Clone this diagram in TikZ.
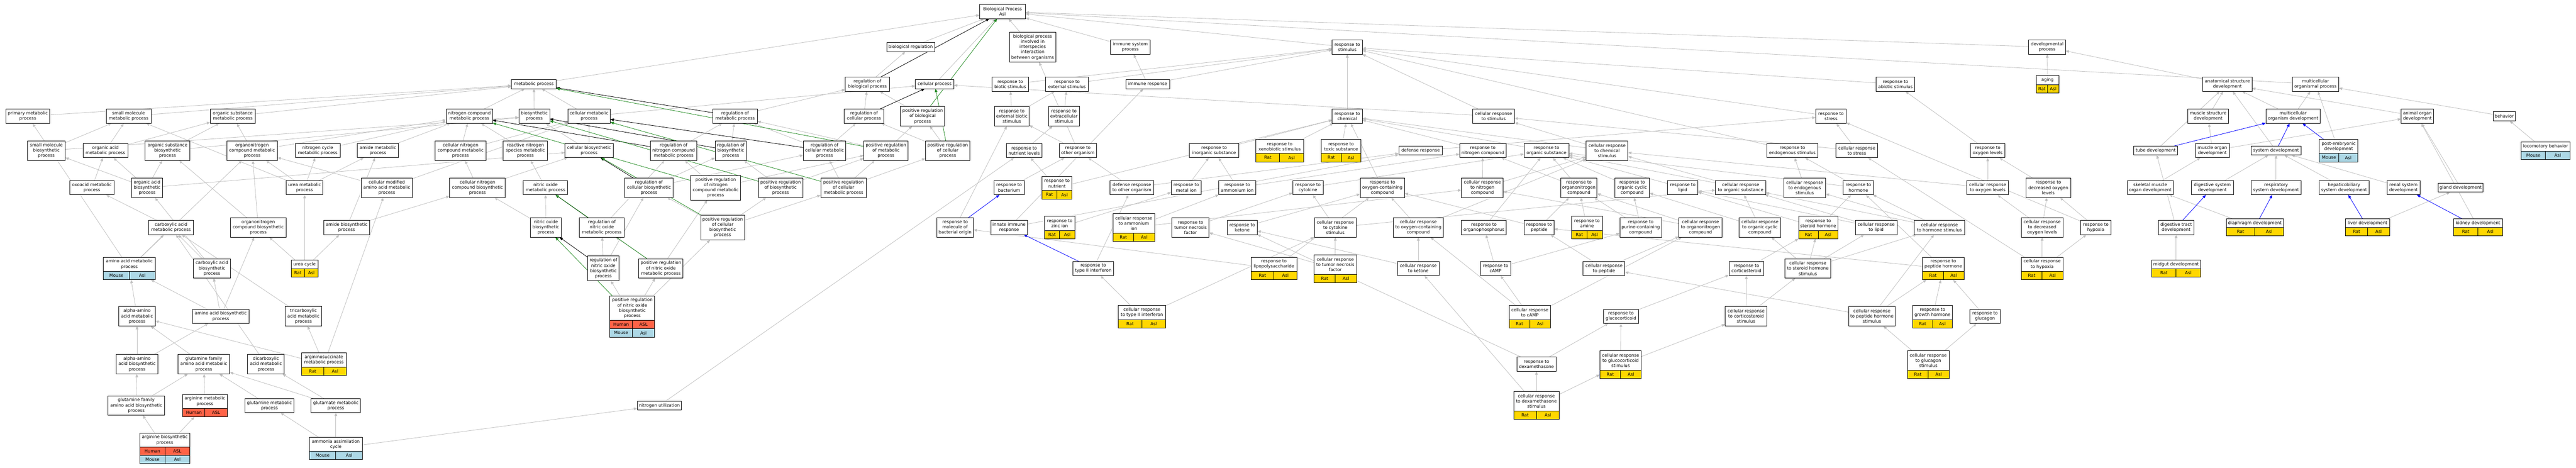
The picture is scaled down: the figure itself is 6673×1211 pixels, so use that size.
\documentclass[tikz,border=0pt]{standalone}
\usepackage{fontspec}
\setmainfont{DejaVu Sans}
\usetikzlibrary{arrows.meta,fit}
\pgfdeclarelayer{bg}
\pgfsetlayers{bg,main}
\definecolor{edgegray}{HTML}{C0C0C0}
\definecolor{hum}{HTML}{FF6347}
\definecolor{mou}{HTML}{ADD8E6}
\definecolor{rat}{HTML}{FFD700}
\definecolor{pgreen}{HTML}{228B22}
\newcommand\gofont{\fontsize{11.3}{13.6}\selectfont}
\tikzset{
  gobox/.style={draw=black,line width=1.2bp,fill=white,rectangle,inner xsep=2bp,inner ysep=1bp,outer sep=0pt,align=center,font=\gofont},
  cell/.style={draw=black,line width=1.2bp,rectangle,inner sep=0pt,outer sep=0pt,minimum height=21.5bp,font=\gofont},
  grp/.style={rectangle,inner sep=0pt,outer sep=0pt},
  isa/.style={draw=edgegray,line width=1.1bp,-{Triangle[length=9bp,width=7bp]}},
  rg/.style={isa,draw=black},
  pg/.style={isa,draw=pgreen},
  po/.style={isa,draw=blue}
}
\newcommand\gn[6]{\node[gobox,minimum width=#4bp,minimum height={23bp+13.6bp*(#5-1)}] (#1) at (#2,-#3) {#6};}
\newcommand\sn[6]{\node[gobox,anchor=north,minimum width=#4bp,minimum height={23bp+13.6bp*(#5-1)}] (#1t) at (#2,-#3) {#6};}
\newcommand\srow[6]{%
  \node[cell,fill=#4,minimum width={#3bp/2},anchor=north east] (#1a) at (#2) {#5};
  \node[cell,fill=#4,minimum width={#3bp/2},anchor=north west] (#1b) at (#2) {#6};}
\newcommand\ratn[6]{\sn{#1}{#2}{#3}{#4}{#5}{#6}\srow{#1r}{#1t.south}{#4}{rat}{Rat}{Asl}\node[grp,fit=(#1t)(#1ra)(#1rb)] (#1) {};}
\newcommand\moun[6]{\sn{#1}{#2}{#3}{#4}{#5}{#6}\srow{#1r}{#1t.south}{#4}{mou}{Mouse}{Asl}\node[grp,fit=(#1t)(#1ra)(#1rb)] (#1) {};}
\newcommand\humn[6]{\sn{#1}{#2}{#3}{#4}{#5}{#6}\srow{#1r}{#1t.south}{#4}{hum}{Human}{ASL}\node[grp,fit=(#1t)(#1ra)(#1rb)] (#1) {};}
\newcommand\hmn[6]{\sn{#1}{#2}{#3}{#4}{#5}{#6}\srow{#1r}{#1t.south}{#4}{hum}{Human}{ASL}\srow{#1s}{#1ra.south east}{#4}{mou}{Mouse}{Asl}\node[grp,fit=(#1t)(#1sa)(#1sb)] (#1) {};}
\newcommand\edg[3][isa]{\draw[#1] (#2) -- (#3);}
\begin{document}
\begin{tikzpicture}[x=1bp,y=1bp]
\useasboundingbox (0,0) rectangle (6673,-1211);
\begin{pgfonlayer}{bg}
\fill[white] (0,0) rectangle (6673,-1211);
\end{pgfonlayer}
% ---------------- metabolism
\gn{primmet}{72}{301}{113}{2}{primary metabolic\\process}
\gn{smmet}{333}{301}{116}{2}{small molecule\\metabolic process}
\gn{orgsubmet}{603}{301}{116}{2}{organic substance\\metabolic process}
\gn{smbio}{120}{390}{98}{3}{small molecule\\biosynthetic\\process}
\gn{oamet}{273}{390}{116}{2}{organic acid\\metabolic process}
\gn{orgsubbio}{434}{390}{116}{3}{organic substance\\biosynthetic\\process}
\gn{onmet}{653}{390}{131}{3}{organonitrogen\\compound metabolic\\process}
\gn{ncyc}{823}{390}{116}{2}{nitrogen cycle\\metabolic process}
\gn{amidemet}{979}{390}{106}{2}{amide metabolic\\process}
\gn{oxoacid}{238}{486}{115}{2}{oxoacid metabolic\\process}
\gn{oabio}{381}{486}{80}{3}{organic acid\\biosynthetic\\process}
\gn{ureamet}{789}{486}{95}{2}{urea metabolic\\process}
\gn{cmodaa}{1002}{486}{133}{3}{cellular modified\\amino acid metabolic\\process}
\gn{carbmet}{443}{589}{116}{2}{carboxylic acid\\metabolic process}
\gn{onbio}{669}{589}{144}{3}{organonitrogen\\compound biosynthetic\\process}
\gn{amidebio}{898}{589}{118}{2}{amide biosynthetic\\process}
\moun{aamet}{335}{666}{134}{2}{amino acid metabolic\\process}
\gn{carbbio}{549}{695}{97}{3}{carboxylic acid\\biosynthetic\\process}
\ratn{ureacyc}{789}{673}{70}{1}{urea cycle}
\gn{alphaaamet}{355}{819}{94}{3}{alpha-amino\\acid metabolic\\process}
\gn{aabio}{572}{819}{146}{2}{amino acid biosynthetic\\process}
\gn{tcamet}{786}{819}{94}{3}{tricarboxylic\\acid metabolic\\process}
\gn{alphaaabio}{355}{943}{108}{3}{alpha-amino\\acid biosynthetic\\process}
\gn{glnfammet}{528}{943}{134}{3}{glutamine family\\amino acid metabolic\\process}
\gn{dicarbmet}{689}{943}{95}{3}{dicarboxylic\\acid metabolic\\process}
\ratn{asucc}{839}{914}{116}{2}{argininosuccinate\\metabolic process}
\gn{glnfambio}{353}{1050}{146}{3}{glutamine family\\amino acid biosynthetic\\process}
\humn{argmet}{531}{1021}{115}{2}{arginine metabolic\\process}
\gn{glnmet}{698}{1050}{126}{2}{glutamine metabolic\\process}
\gn{glumet}{870}{1050}{128}{2}{glutamate metabolic\\process}
\hmn{argbio}{427}{1121}{129}{2}{arginine biosynthetic\\process}
\moun{ammassim}{870}{1132}{138}{2}{ammonia assimilation\\cycle}
% ---------------- metabolism / regulation
\gn{metproc}{1383}{218}{116}{1}{metabolic process}
\gn{ncmet}{1216}{301}{120}{2}{nitrogen compound\\metabolic process}
\gn{bioproc}{1384}{301}{80}{2}{biosynthetic\\process}
\gn{cellmet}{1526}{301}{110}{2}{cellular metabolic\\process}
\gn{regmet}{1904}{301}{116}{2}{regulation of\\metabolic process}
\gn{regbio}{2247}{218}{115}{2}{regulation of\\biological process}
\gn{regcell}{2238}{301}{103}{2}{regulation of\\cellular process}
\gn{cnmet}{1193}{390}{131}{3}{cellular nitrogen\\compound metabolic\\process}
\gn{rnsmet}{1361}{390}{115}{3}{reactive nitrogen\\species metabolic\\process}
\gn{cellbio}{1526}{390}{125}{2}{cellular biosynthetic\\process}
\gn{regncmet}{1745}{390}{119}{3}{regulation of\\nitrogen compound\\metabolic process}
\gn{regbiosyn}{1893}{390}{81}{3}{regulation of\\biosynthetic\\process}
\gn{regcellmet}{2136}{390}{110}{3}{regulation of\\cellular metabolic\\process}
\gn{cnbio}{1237}{486}{144}{3}{cellular nitrogen\\compound biosynthetic\\process}
\gn{nomet}{1413}{486}{115}{2}{nitric oxide\\metabolic process}
\gn{regcellbio}{1681}{486}{125}{3}{regulation of\\cellular biosynthetic\\process}
\gn{posregncmet}{1854}{486}{130}{4}{positive regulation\\of nitrogen\\compound metabolic\\process}
\gn{posregbiosyn}{2022}{486}{115}{3}{positive regulation\\of biosynthetic\\process}
\gn{posregcellmet}{2185}{486}{118}{3}{positive regulation\\of cellular\\metabolic process}
\gn{nobio}{1414}{589}{81}{3}{nitric oxide\\biosynthetic\\process}
\gn{regnomet}{1559}{589}{116}{3}{regulation of\\nitric oxide\\metabolic process}
\gn{posregcellbio}{1872}{589}{114}{4}{positive regulation\\of cellular\\biosynthetic\\process}
\gn{regnobio}{1563}{695}{81}{4}{regulation of\\nitric oxide\\biosynthetic\\process}
\gn{posregnomet}{1712}{695}{115}{3}{positive regulation\\of nitric oxide\\metabolic process}
\hmn{posregnobio}{1638}{766}{116}{4}{positive regulation\\of nitric oxide\\biosynthetic\\process}
\gn{nutil}{1708}{1050}{114}{1}{nitrogen utilization}
% ---------------- root and responses
\gn{root}{2597}{30}{119}{2}{Biological Process\\Asl}
\gn{bioreg}{2359}{122}{124}{1}{biological regulation}
\gn{interspp}{2675}{122}{121}{5}{biological process\\involved in\\interspecies\\interaction\\between organisms}
\gn{immsys}{2928}{122}{103}{2}{immune system\\process}
\gn{cellproc}{2421}{218}{100}{1}{cellular process}
\gn{respbiotic}{2617}{218}{95}{2}{response to\\biotic stimulus}
\gn{respext}{2764}{218}{110}{2}{response to\\external stimulus}
\gn{immresp}{2973}{218}{113}{1}{immune response}
\gn{posregbio}{2390}{301}{115}{3}{positive regulation\\of biological\\process}
\gn{respextbiotic}{2621}{301}{90}{3}{response to\\external biotic\\stimulus}
\gn{respextracell}{2756}{301}{80}{3}{response to\\extracellular\\stimulus}
\gn{posregmet}{2295}{390}{115}{3}{positive regulation\\of metabolic\\process}
\gn{posregcell}{2455}{390}{115}{3}{positive regulation\\of cellular\\process}
\gn{respnutlev}{2653}{390}{91}{2}{response to\\nutrient levels}
\gn{respotherorg}{2792}{390}{96}{2}{response to\\other organism}
\gn{respinorg}{3145}{390}{128}{2}{response to\\inorganic substance}
\ratn{respxeno}{3315}{361}{123}{2}{response to\\xenobiotic stimulus}
\gn{respbact}{2614}{486}{79}{2}{response to\\bacterium}
\ratn{respnut}{2738}{457}{78}{2}{response to\\nutrient}
\gn{defotherorg}{2932}{486}{113}{2}{defense response\\to other organism}
\gn{respmetal}{3073}{486}{78}{2}{response to\\metal ion}
\gn{respammon}{3205}{486}{95}{2}{response to\\ammonium ion}
\gn{respmolbact}{2474}{589}{95}{3}{response to\\molecule of\\bacterial origin}
\gn{innate}{2614}{589}{95}{2}{innate immune\\response}
\ratn{respzinc}{2745}{560}{79}{2}{response to\\zinc ion}
\ratn{cellammon}{2937}{553}{108}{3}{cellular response\\to ammonium\\ion}
\gn{resptnf}{3084}{589}{96}{3}{response to\\tumor necrosis\\factor}
\gn{respketone}{3218}{589}{78}{2}{response to\\ketone}
\gn{respifng}{2832}{695}{105}{2}{response to\\type II interferon}
\ratn{cellifng}{2958}{791}{122}{2}{cellular response\\to type II interferon}
\ratn{resplps}{3300}{666}{119}{2}{response to\\lipopolysaccharide}
\gn{respstim}{3490}{122}{78}{2}{response to\\stimulus}
\gn{respchem}{3490}{301}{78}{2}{response to\\chemical}
\gn{cellstim}{3869}{301}{108}{2}{cellular response\\to stimulus}
\ratn{resptoxic}{3474}{361}{102}{2}{response to\\toxic substance}
\gn{defresp}{3680}{390}{113}{1}{defense response}
\gn{respnc}{3841}{390}{120}{2}{response to\\nitrogen compound}
\gn{resporgsub}{4006}{390}{116}{2}{response to\\organic substance}
\gn{cellchem}{4163}{390}{108}{3}{cellular response\\to chemical\\stimulus}
\gn{respcyto}{3388}{486}{79}{2}{response to\\cytokine}
\gn{respoxy}{3581}{486}{115}{3}{response to\\oxygen-containing\\compound}
\gn{cellnc}{3840}{486}{108}{3}{cellular response\\to nitrogen\\compound}
\gn{resporgn}{4090}{486}{94}{3}{response to\\organonitrogen\\compound}
\gn{resporgcyc}{4228}{486}{90}{3}{response to\\organic cyclic\\compound}
\gn{resplipid}{4359}{486}{79}{2}{response to\\lipid}
\gn{cellorgsub}{4509}{486}{130}{2}{cellular response\\to organic substance}
\gn{cellcyto}{3459}{589}{109}{3}{cellular response\\to cytokine\\stimulus}
\gn{celloxy}{3674}{589}{130}{3}{cellular response\\to oxygen-containing\\compound}
\gn{respophos}{3844}{589}{116}{2}{response to\\organophosphorus}
\gn{resppep}{3987}{589}{78}{2}{response to\\peptide}
\ratn{respamine}{4111}{560}{79}{2}{response to\\amine}
\gn{resppurine}{4250}{589}{108}{3}{response to\\purine-containing\\compound}
\gn{cellorgn}{4405}{589}{112}{3}{cellular response\\to organonitrogen\\compound}
\ratn{celltnf}{3459}{660}{110}{3}{cellular response\\to tumor necrosis\\factor}
\gn{cellketone}{3674}{695}{108}{2}{cellular response\\to ketone}
\gn{respcamp}{3874}{695}{78}{2}{response to\\cAMP}
\gn{cellpep}{4155}{695}{108}{2}{cellular response\\to peptide}
\ratn{cellcamp}{3963}{791}{108}{2}{cellular response\\to cAMP}
\gn{respgluco}{4199}{819}{90}{2}{response to\\glucocorticoid}
\gn{respdex}{3980}{943}{102}{2}{response to\\dexamethasone}
\ratn{cellgluco}{4198}{908}{107}{3}{cellular response\\to glucocorticoid\\stimulus}
\ratn{celldex}{3980}{1014}{118}{3}{cellular response\\to dexamethasone\\stimulus}
\gn{devproc}{5303}{122}{95}{2}{developmental\\process}
\gn{respabiotic}{4910}{218}{101}{2}{response to\\abiotic stimulus}
\ratn{aging}{5304}{196}{58}{1}{aging}
\gn{respstress}{4743}{301}{79}{2}{response to\\stress}
\gn{respendo}{4643}{390}{133}{2}{response to\\endogenous stimulus}
\gn{cellstress}{4810}{390}{108}{2}{cellular response\\to stress}
\gn{respoxylev}{5149}{390}{90}{2}{response to\\oxygen levels}
\gn{tubedev}{5584}{390}{114}{1}{tube development}
\gn{cellendo}{4675}{486}{108}{3}{cellular response\\to endogenous\\stimulus}
\gn{resphorm}{4814}{486}{78}{2}{response to\\hormone}
\gn{celloxylev}{5149}{486}{108}{2}{cellular response\\to oxygen levels}
\gn{respdecoxy}{5306}{486}{116}{3}{response to\\decreased oxygen\\levels}
\gn{skmuscle}{5570}{486}{119}{2}{skeletal muscle\\organ development}
\gn{cellorgcyc}{4559}{589}{109}{3}{cellular response\\to organic cyclic\\compound}
\ratn{respsteroid}{4710}{560}{102}{2}{response to\\steroid hormone}
\gn{celllipid}{4860}{589}{108}{2}{cellular response\\to lipid}
\gn{cellhorm}{5024}{589}{130}{2}{cellular response\\to hormone stimulus}
\gn{celldecoxy}{5290}{589}{108}{3}{cellular response\\to decreased\\oxygen levels}
\gn{resphypoxia}{5429}{589}{80}{2}{response to\\hypoxia}
\gn{respcortico}{4524}{695}{90}{2}{response to\\corticosteroid}
\gn{cellsteroid}{4683}{695}{119}{3}{cellular response\\to steroid hormone\\stimulus}
\ratn{resppephorm}{5034}{666}{108}{2}{response to\\peptide hormone}
\ratn{cellhypoxia}{5290}{666}{108}{2}{cellular response\\to hypoxia}
\gn{cellcortico}{4523}{819}{108}{3}{cellular response\\to corticosteroid\\stimulus}
\gn{cellpephorm}{4849}{819}{121}{3}{cellular response\\to peptide hormone\\stimulus}
\ratn{respgh}{5006}{791}{102}{2}{response to\\growth hormone}
\gn{respglucagon}{5142}{819}{78}{2}{response to\\glucagon}
\ratn{cellglucagon}{4995}{908}{108}{3}{cellular response\\to glucagon\\stimulus}
% ---------------- development
\gn{anatdev}{5770}{218}{127}{2}{anatomical structure\\development}
\gn{mcorgproc}{5998}{218}{121}{2}{multicellular\\organismal process}
\gn{muscstruct}{5720}{301}{106}{2}{muscle structure\\development}
\gn{mcorgdev}{5940}{301}{141}{2}{multicellular\\organism development}
\gn{animorgdev}{6262}{301}{84}{2}{animal organ\\development}
\gn{behavior}{6487}{301}{58}{1}{behavior}
\gn{muscorgdev}{5731}{390}{88}{2}{muscle organ\\development}
\gn{sysdev}{5896}{390}{129}{1}{system development}
\moun{postemb}{6058}{361}{100}{2}{post-embryonic\\development}
\moun{locomotory}{6594}{368}{126}{1}{locomotory behavior}
\gn{digsys}{5731}{486}{110}{2}{digestive system\\development}
\gn{respsys}{5896}{486}{129}{2}{respiratory\\system development}
\gn{hepsys}{6072}{486}{130}{2}{hepaticobiliary\\system development}
\gn{rensys}{6226}{486}{85}{2}{renal system\\development}
\gn{glanddev}{6374}{486}{117}{1}{gland development}
\gn{digtract}{5637}{589}{92}{2}{digestive tract\\development}
\ratn{diaphragm}{5841}{566}{148}{1}{diaphragm development}
\ratn{liverdev}{6133}{566}{114}{1}{liver development}
\ratn{kidneydev}{6419}{566}{127}{1}{kidney development}
\ratn{midgut}{5637}{673}{126}{1}{midgut development}
% ================= edges
\begin{pgfonlayer}{bg}
% root
\edg{metproc}{root}\edg{bioreg}{root}\edg{cellproc}{root}\edg{interspp}{root}
\edg{immsys}{root}\edg{respstim}{root}\edg{devproc}{root}\edg{mcorgproc}{root}
% regulation (is_a)
\edg{regbio}{bioreg}\edg{regmet}{regbio}\edg{regcell}{regbio}\edg{posregbio}{regbio}
\edg{posregmet}{posregbio}\edg{posregmet}{regmet}\edg{posregcell}{posregbio}\edg{posregcell}{regcell}
\edg{regncmet}{regmet}\edg{regbiosyn}{regmet}\edg{regcellmet}{regmet}\edg{regcellmet}{regcell}
\edg{regcellbio}{regbiosyn}\edg{regcellbio}{regcellmet}
\edg{posregncmet}{regncmet}\edg{posregncmet}{posregmet}
\edg{posregbiosyn}{regbiosyn}\edg{posregbiosyn}{posregmet}
\edg{posregcellmet}{regcellmet}\edg{posregcellmet}{posregmet}\edg{posregcellmet}{posregcell}
\edg{posregcellbio}{regcellbio}\edg{posregcellbio}{posregbiosyn}\edg{posregcellbio}{posregcellmet}
\edg{regnomet}{regncmet}\edg{posregnomet}{regnomet}\edg{posregnomet}{posregncmet}
\edg{regnobio}{regnomet}\edg{regnobio}{regcellbio}
\edg{posregnobio}{regnobio}\edg{posregnobio}{posregnomet}\edg{posregnobio}{posregcellbio}
% metabolism
\edg{primmet}{metproc}\edg{smmet}{metproc}\edg{orgsubmet}{metproc}
\edg{ncmet}{metproc}\edg{bioproc}{metproc}\edg{cellmet}{metproc}\edg{cellmet}{cellproc}
\edg{smbio}{smmet}\edg{smbio}{bioproc}\edg{oamet}{smmet}\edg{oamet}{orgsubmet}
\edg{orgsubbio}{orgsubmet}\edg{orgsubbio}{bioproc}\edg{onmet}{orgsubmet}\edg{onmet}{ncmet}
\edg{ncyc}{ncmet}\edg{amidemet}{ncmet}\edg{oxoacid}{oamet}
\edg{oabio}{oamet}\edg{oabio}{smbio}\edg{oabio}{orgsubbio}\edg{oabio}{cellbio}
\edg{ureamet}{onmet}\edg{ureamet}{ncyc}\edg{ureamet}{amidemet}\edg{ureamet}{smmet}
\edg{cmodaa}{onmet}\edg{cmodaa}{cellmet}\edg{carbmet}{oxoacid}
\edg{onbio}{onmet}\edg{onbio}{orgsubbio}\edg{amidebio}{amidemet}\edg{amidebio}{cnbio}
\edg{aamet}{carbmet}\edg{aamet}{primmet}\edg{aamet}{onmet}
\edg{carbbio}{carbmet}\edg{carbbio}{oabio}
\edg{ureacyc}{ureamet}\edg{ureacyc}{amidebio}\edg{ureacyc}{onbio}
\edg{alphaaamet}{aamet}\edg{aabio}{aamet}\edg{aabio}{carbbio}\edg{aabio}{onbio}
\edg{tcamet}{carbmet}\edg{alphaaabio}{alphaaamet}\edg{alphaaabio}{aabio}
\edg{glnfammet}{alphaaamet}\edg{dicarbmet}{carbmet}
\edg{asucc}{alphaaamet}\edg{asucc}{tcamet}\edg{asucc}{cmodaa}
\edg{glnfambio}{alphaaabio}\edg{glnfambio}{glnfammet}
\edg{argmet}{glnfammet}\edg{glnmet}{glnfammet}\edg{glumet}{glnfammet}\edg{glumet}{dicarbmet}
\edg{argbio}{glnfambio}\edg{argbio}{argmet}
\edg{ammassim}{glnmet}\edg{ammassim}{glumet}\edg{ammassim}{nutil}
\edg{cnmet}{ncmet}\edg{cnmet}{cellmet}\edg{rnsmet}{ncmet}
\edg{cellbio}{bioproc}\edg{cellbio}{cellmet}\edg{cnbio}{cnmet}\edg{cnbio}{cellbio}
\edg{nomet}{rnsmet}\edg{nobio}{nomet}\edg{nobio}{cnbio}\edg{nutil}{respnutlev}
% responses
\edg{respbiotic}{respstim}\edg{respext}{respstim}\edg{immresp}{immsys}\edg{immresp}{respstim}
\edg{respextbiotic}{respbiotic}\edg{respextbiotic}{respext}\edg{respextracell}{respext}
\edg{respnutlev}{respextracell}\edg{respotherorg}{respextbiotic}\edg{respotherorg}{interspp}
\edg{respinorg}{respchem}\edg{respxeno}{respchem}\edg{respbact}{respotherorg}
\edg{respnut}{respnutlev}\edg{respnut}{respchem}
\edg{defotherorg}{respotherorg}\edg{defotherorg}{defresp}
\edg{respmetal}{respinorg}\edg{respammon}{respinorg}\edg{respammon}{respnc}
\edg{respmolbact}{respextbiotic}\edg{innate}{immresp}\edg{innate}{defresp}
\edg{respzinc}{respmetal}\edg{cellammon}{respammon}\edg{cellammon}{cellnc}
\edg{resptnf}{respcyto}\edg{respketone}{respoxy}\edg{respifng}{defotherorg}
\edg{cellifng}{respifng}\edg{cellifng}{cellcyto}\edg{resplps}{respmolbact}\edg{resplps}{respoxy}
\edg{respchem}{respstim}\edg{cellstim}{respstim}\edg{cellstim}{cellproc}
\edg{resptoxic}{respchem}\edg{defresp}{respstress}\edg{respnc}{respchem}\edg{resporgsub}{respchem}
\edg{cellchem}{respchem}\edg{cellchem}{cellstim}\edg{respcyto}{resporgsub}\edg{respoxy}{respchem}
\edg{cellnc}{respnc}\edg{cellnc}{cellchem}\edg{resporgn}{resporgsub}\edg{resporgn}{respnc}
\edg{resporgcyc}{resporgsub}\edg{resplipid}{resporgsub}
\edg{cellorgsub}{resporgsub}\edg{cellorgsub}{cellchem}
\edg{cellcyto}{respcyto}\edg{cellcyto}{cellorgsub}\edg{celloxy}{respoxy}\edg{celloxy}{cellchem}
\edg{respophos}{resporgsub}\edg{resppep}{resporgn}\edg{resppep}{respoxy}\edg{respamine}{resporgn}
\edg{resppurine}{resporgcyc}\edg{resppurine}{resporgn}\edg{cellorgn}{resporgn}\edg{cellorgn}{cellnc}
\edg{celltnf}{cellcyto}\edg{celltnf}{resptnf}\edg{cellketone}{respketone}\edg{cellketone}{celloxy}
\edg{respcamp}{respophos}\edg{respcamp}{resppurine}\edg{cellpep}{resppep}\edg{cellpep}{cellorgn}
\edg{cellcamp}{respcamp}\edg{cellcamp}{celloxy}\edg{cellcamp}{cellorgn}
\edg{respgluco}{respcortico}\edg{respdex}{respgluco}\edg{respdex}{respketone}
\edg{cellgluco}{respgluco}\edg{cellgluco}{cellcortico}
\edg{celldex}{respdex}\edg{celldex}{cellgluco}\edg{celldex}{cellketone}
\edg{respabiotic}{respstim}\edg{aging}{devproc}\edg{respstress}{respstim}\edg{respendo}{respstim}
\edg{cellstress}{respstress}\edg{cellstress}{cellstim}\edg{respoxylev}{respabiotic}
\edg{cellendo}{respendo}\edg{resphorm}{respendo}\edg{resphorm}{resporgsub}
\edg{celloxylev}{respoxylev}\edg{celloxylev}{cellchem}\edg{respdecoxy}{respoxylev}
\edg{cellorgcyc}{resporgcyc}\edg{cellorgcyc}{cellorgsub}
\edg{respsteroid}{resphorm}\edg{respsteroid}{resplipid}
\edg{celllipid}{resplipid}\edg{celllipid}{cellorgsub}
\edg{cellhorm}{resphorm}\edg{cellhorm}{cellendo}\edg{cellhorm}{cellorgsub}
\edg{celldecoxy}{respdecoxy}\edg{celldecoxy}{celloxylev}
\edg{resphypoxia}{respdecoxy}\edg{resphypoxia}{respstress}\edg{respcortico}{respsteroid}
\edg{cellsteroid}{respsteroid}\edg{cellsteroid}{cellhorm}\edg{cellsteroid}{celllipid}\edg{cellsteroid}{cellorgcyc}
\edg{resppephorm}{resphorm}\edg{resppephorm}{resppep}
\edg{cellhypoxia}{resphypoxia}\edg{cellhypoxia}{celldecoxy}\edg{cellhypoxia}{cellstress}
\edg{cellcortico}{respcortico}\edg{cellcortico}{cellsteroid}
\edg{cellpephorm}{resppephorm}\edg{cellpephorm}{cellhorm}\edg{cellpephorm}{cellpep}
\edg{respgh}{resppephorm}\edg{respglucagon}{resppephorm}
\edg{cellglucagon}{cellpephorm}\edg{cellglucagon}{respglucagon}
% development
\edg{anatdev}{devproc}\edg{muscstruct}{anatdev}\edg{mcorgdev}{anatdev}\edg{mcorgdev}{mcorgproc}
\edg{animorgdev}{anatdev}\edg{behavior}{mcorgproc}\edg{tubedev}{anatdev}
\edg{muscorgdev}{muscstruct}\edg{muscorgdev}{animorgdev}\edg{sysdev}{anatdev}
\edg{postemb}{mcorgproc}\edg{locomotory}{behavior}\edg{skmuscle}{muscorgdev}
\edg{digsys}{sysdev}\edg{respsys}{sysdev}\edg{hepsys}{sysdev}\edg{rensys}{sysdev}
\edg{glanddev}{animorgdev}\edg{digtract}{tubedev}\edg{diaphragm}{skmuscle}
\edg{liverdev}{glanddev}\edg{kidneydev}{animorgdev}\edg{midgut}{digtract}
% regulates (black)
\edg[rg]{regbio}{root}\edg[rg]{regmet}{metproc}\edg[rg]{regcell}{cellproc}
\edg[rg]{regncmet}{ncmet}\edg[rg]{regbiosyn}{bioproc}\edg[rg]{regcellmet}{cellmet}
\edg[rg]{regcellbio}{cellbio}\edg[rg]{regnomet}{nomet}\edg[rg]{regnobio}{nobio}
% positively regulates (green)
\edg[pg]{posregbio}{root}\edg[pg]{posregmet}{metproc}\edg[pg]{posregcell}{cellproc}
\edg[pg]{posregncmet}{ncmet}\edg[pg]{posregbiosyn}{bioproc}\edg[pg]{posregcellmet}{cellmet}
\edg[pg]{posregcellbio}{cellbio}\edg[pg]{posregnomet}{nomet}\edg[pg]{posregnobio}{nobio}
% part of (blue)
\edg[po]{tubedev}{mcorgdev}\edg[po]{sysdev}{mcorgdev}\edg[po]{postemb}{mcorgdev}
\edg[po]{digtract}{digsys}\edg[po]{diaphragm}{respsys}\edg[po]{liverdev}{hepsys}
\edg[po]{kidneydev}{rensys}\edg[po]{respmolbact}{respbact}\edg[po]{respifng}{innate}
\end{pgfonlayer}
\end{tikzpicture}
\end{document}
